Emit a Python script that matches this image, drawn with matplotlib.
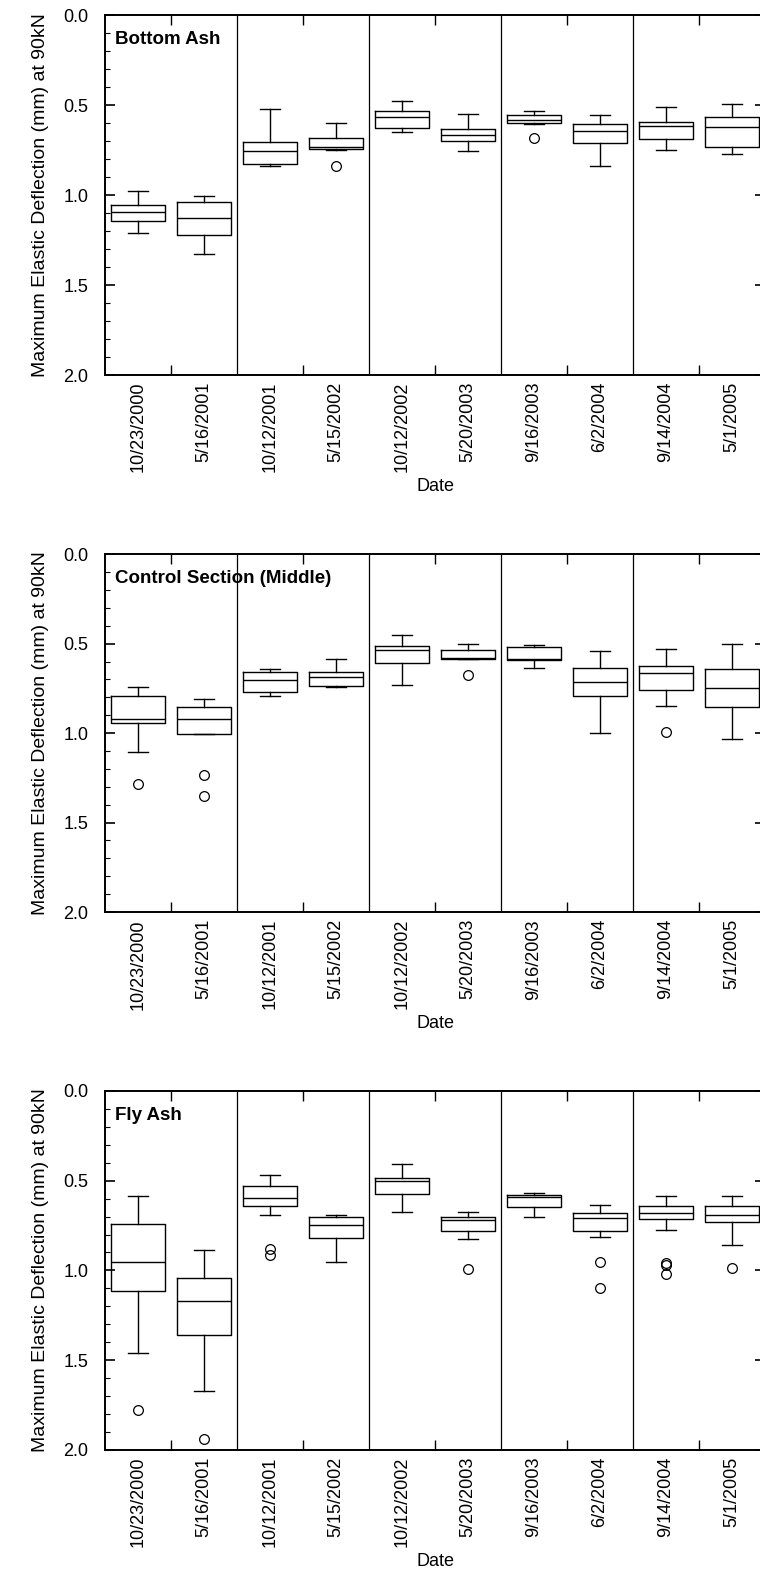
import matplotlib
matplotlib.use('Agg')
import matplotlib.pyplot as plt
from matplotlib.ticker import MultipleLocator, FixedLocator

plt.rcParams['font.family'] = ['Liberation Sans', 'DejaVu Sans']

# survey dates (x axis)
dates = ['10/23/2000', '5/16/2001', '10/12/2001', '5/15/2002', '10/12/2002',
         '5/20/2003', '9/16/2003', '6/2/2004', '9/14/2004', '5/1/2005']

section_names = ['Bottom Ash', 'Control Section (Middle)', 'Fly Ash']

# box statistics per date, deflection in mm
# columns: lower whisker, q1, median, q3, upper whisker
bottom_ash = [
    [0.976, 1.054, 1.094, 1.144, 1.211],
    [1.004, 1.041, 1.130, 1.220, 1.328],
    [0.524, 0.704, 0.757, 0.828, 0.841],
    [0.598, 0.685, 0.735, 0.744, 0.748],
    [0.480, 0.533, 0.569, 0.628, 0.648],
    [0.552, 0.635, 0.667, 0.702, 0.754],
    [0.533, 0.554, 0.585, 0.602, 0.607],
    [0.554, 0.604, 0.646, 0.713, 0.839],
    [0.511, 0.593, 0.617, 0.689, 0.748],
    [0.493, 0.567, 0.620, 0.733, 0.770],
]
bottom_ash_out = [[], [], [], [0.837], [], [], [0.685], [], [], []]

control = [
    [0.740, 0.794, 0.919, 0.945, 1.107],
    [0.811, 0.856, 0.919, 1.005, 1.003],
    [0.642, 0.657, 0.703, 0.772, 0.791],
    [0.588, 0.657, 0.687, 0.737, 0.744],
    [0.454, 0.512, 0.536, 0.608, 0.731],
    [0.504, 0.534, 0.582, 0.584, 0.586],
    [0.506, 0.517, 0.587, 0.590, 0.638],
    [0.540, 0.634, 0.714, 0.794, 1.001],
    [0.530, 0.623, 0.664, 0.761, 0.848],
    [0.504, 0.644, 0.746, 0.854, 1.031],
]
control_out = [[1.286], [1.233, 1.349], [], [], [], [0.673], [], [], [0.992], []]

fly_ash = [
    [0.587, 0.743, 0.951, 1.114, 1.458],
    [0.888, 1.040, 1.170, 1.361, 1.669],
    [0.470, 0.531, 0.596, 0.641, 0.691],
    [0.691, 0.704, 0.748, 0.819, 0.955],
    [0.409, 0.483, 0.500, 0.576, 0.672],
    [0.672, 0.700, 0.719, 0.782, 0.823],
    [0.568, 0.578, 0.592, 0.648, 0.704],
    [0.633, 0.678, 0.706, 0.782, 0.812],
    [0.583, 0.643, 0.678, 0.715, 0.773],
    [0.583, 0.639, 0.689, 0.730, 0.856],
]
fly_ash_out = [[1.775], [1.937], [0.880, 0.912], [], [], [0.990], [],
               [0.951, 1.099], [0.958, 0.968, 1.018], [0.984]]

sections = [(bottom_ash, bottom_ash_out), (control, control_out), (fly_ash, fly_ash_out)]


def make_stats(rows, outliers):
    stats = []
    for r, fl in zip(rows, outliers):
        stats.append({'whislo': r[0], 'q1': r[1], 'med': r[2], 'q3': r[3],
                      'whishi': r[4], 'fliers': fl})
    return stats


fig = plt.figure(figsize=(7.6, 15.81), dpi=100)

# axes rectangles in figure fractions (right edge runs a little past the page)
rects = [[0.1382, 0.7628, 0.8684, 0.2277],
         [0.1382, 0.4231, 0.8684, 0.2264],
         [0.1382, 0.0829, 0.8684, 0.2271]]

line = dict(color='black', linewidth=1.0)

for rect, name, (rows, outs) in zip(rects, section_names, sections):
    ax = fig.add_axes(rect)
    ax.bxp(make_stats(rows, outs), positions=range(len(dates)), widths=0.82,
           capwidths=0.29, boxprops=line, whiskerprops=line, capprops=line,
           medianprops=line,
           flierprops=dict(marker='o', markerfacecolor='none',
                           markeredgecolor='black', markersize=7,
                           markeredgewidth=0.9))

    # vertical separators between the survey pairs
    for xs in [1.5, 3.5, 5.5, 7.5]:
        ax.axvline(xs, color='black', linewidth=0.9)

    ax.set_xlim(-0.5, 9.5)
    ax.set_ylim(2.0, 0.0)

    ax.xaxis.set_major_locator(FixedLocator(range(len(dates))))
    ax.set_xticklabels(dates, rotation=90)
    ax.xaxis.set_minor_locator(FixedLocator([0.5, 2.5, 4.5, 6.5, 8.5]))
    ax.tick_params(axis='x', which='major', length=0, pad=5, labelsize=13)
    ax.tick_params(axis='x', which='minor', direction='in', length=7,
                   width=1.0, top=True, bottom=True)

    ax.yaxis.set_major_locator(MultipleLocator(0.5))
    ax.yaxis.set_minor_locator(MultipleLocator(0.1))
    ax.yaxis.set_major_formatter(matplotlib.ticker.FormatStrFormatter('%.1f'))
    ax.tick_params(axis='y', which='major', direction='in', length=7,
                   width=1.2, left=True, right=True, pad=12, labelsize=13)
    ax.tick_params(axis='y', which='minor', direction='in', length=3.5,
                   width=0.8, left=True, right=True)

    for sp in ax.spines.values():
        sp.set_linewidth(1.4)

    ax.set_xlabel('Date', fontsize=13, labelpad=4)
    ax.set_ylabel('Maximum Elastic Deflection (mm) at 90kN', fontsize=14,
                  labelpad=10)
    ax.text(0.015, 0.955, name, transform=ax.transAxes, fontsize=13.5,
            fontweight='bold', va='top', ha='left')

fig.savefig('out.png', dpi=100)
